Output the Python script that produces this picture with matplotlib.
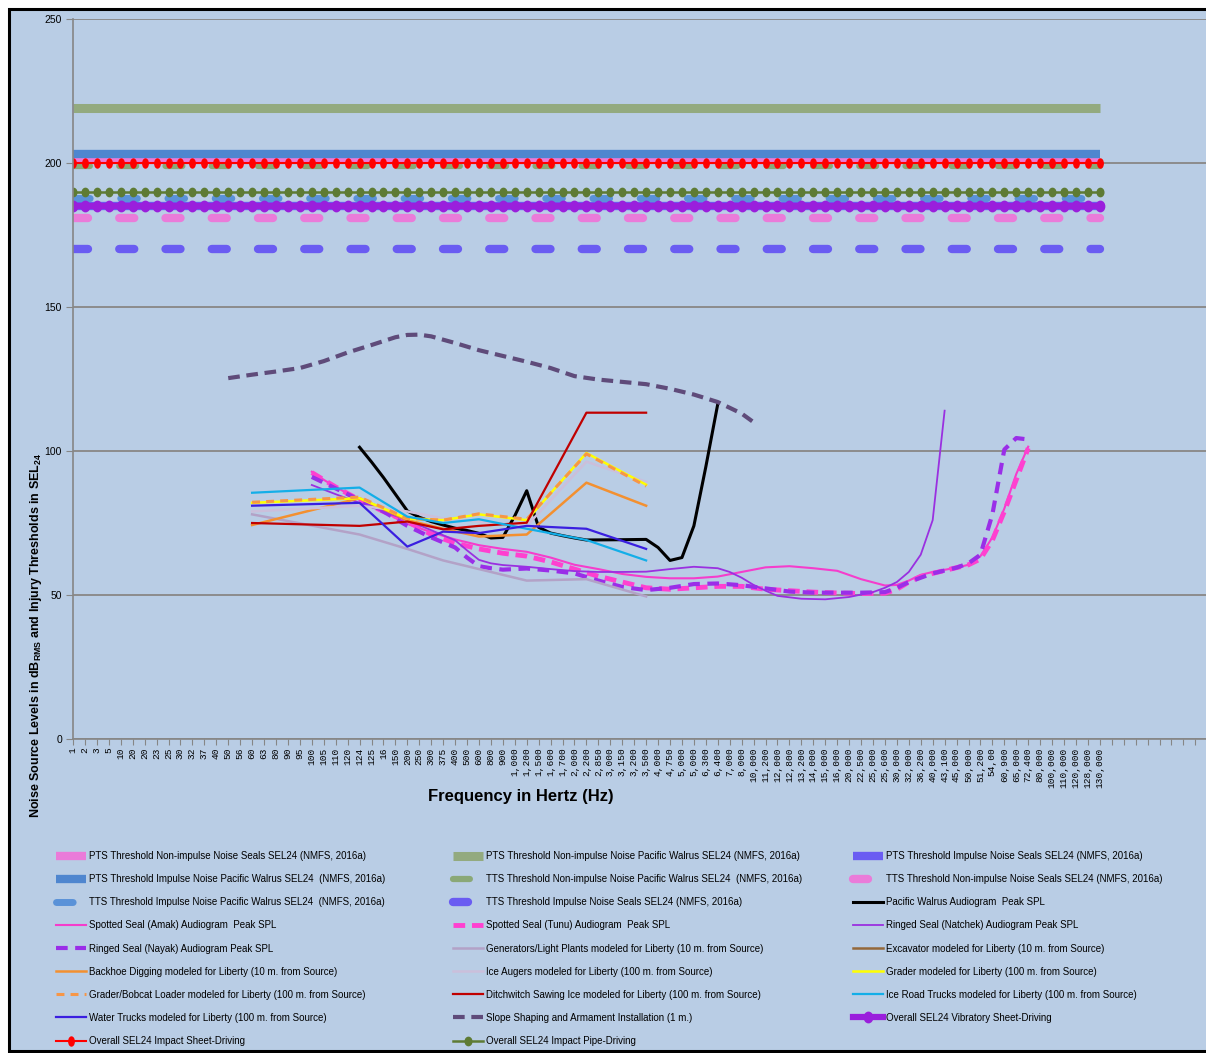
import numpy as np
import matplotlib.pyplot as plt
from matplotlib.patches import Rectangle
from matplotlib.path import Path
from matplotlib.transforms import Affine2D

# category axis (Excel-style line chart, one slot per label)
freq_labels = ["1", "2", "3", "5", "10", "20", "20", "23", "25", "30", "32", "37", "40", "50",
               "56", "60", "63", "80", "90", "95", "100", "105", "110", "120", "124", "125", "16",
               "150", "200", "250", "300", "375", "400", "500", "600", "800", "900", "1,000",
               "1,200", "1,500", "1,600", "1,700", "2,000", "2,200", "2,850", "3,000", "3,150",
               "3,200", "3,500", "4,000", "4,750", "5,000", "5,000", "6,300", "6,400", "7,000",
               "8,000", "10,000", "11,200", "12,000", "12,800", "13,200", "14,000", "15,000",
               "16,000", "20,000", "22,500", "25,000", "25,600", "30,000", "32,000", "36,200",
               "40,000", "43,100", "45,000", "50,000", "51,200", "54,00", "60,900", "65,000",
               "72,400", "80,000", "100,000", "110,000", "120,000", "128,000", "130,000"]
n_slots = 95  # empty categories continue past 130,000

# thresholds (dB SEL24), constant over all categories
pts_nonimp_seal = 201
pts_nonimp_walrus = 219
pts_imp_seal = 185
pts_imp_walrus = 203
tts_nonimp_walrus = 199
tts_nonimp_seal = 181
tts_imp_walrus = 188
tts_imp_seal = 170
vib_sheet = 185
impact_sheet = 200
impact_pipe = 190

# audiograms: category index / level
walrus_i = [24, 25, 26, 27, 28, 29, 30, 31, 32, 33, 34, 35, 36, 37, 38, 39, 40, 41, 42, 43, 46, 48, 49, 50, 51, 52, 53, 54]
walrus_db = [101.3, 96.2, 90.8, 85, 79.2, 77, 75.5, 74.3, 73.2, 72.4, 71.4, 69.8, 70, 77.5, 86.2, 73.5, 71.5, 70.6, 69.8, 69.1, 69.2, 69.3, 66.5, 62, 63, 74, 94.5, 116.3]

amak_i = [20, 21, 22, 24, 26, 28, 30, 32, 34, 36, 38, 40, 42, 44, 46, 48, 50, 52, 54, 56, 58, 60, 62, 64, 66, 68, 69, 70, 71, 72, 74, 75, 76, 77, 78, 79, 80]
amak_db = [92.8, 90, 87.5, 83, 79, 74.7, 71.8, 69.3, 67.3, 66, 65, 63, 60.5, 59, 57.3, 56.3, 55.8, 55.8, 56.4, 58, 59.6, 60, 59.3, 58.4, 55.5, 53.3, 53.5, 55, 57, 58, 59.5, 60.5, 63.5, 70, 80, 92, 101.5]

tunu_i = [20, 22, 24, 26, 28, 30, 32, 34, 36, 38, 40, 42, 44, 46, 48, 50, 52, 54, 56, 58, 60, 62, 64, 66, 68, 69, 70, 71, 72, 74, 75, 76, 77, 78, 79, 80]
tunu_db = [92.5, 87.5, 83, 79, 75.5, 71, 68, 66, 64.5, 63.5, 61.5, 59, 56.5, 54.5, 52.5, 52, 52.5, 53, 53, 52, 51.5, 51, 50.7, 50.5, 50.6, 52, 54.5, 56.4, 57.5, 59.5, 60.5, 62.5, 69, 79, 90, 101]

natchek_i = [20, 22, 24, 26, 28, 30, 32, 33, 34, 35, 36, 38, 40, 42, 44, 46, 48, 50, 52, 54, 55, 56, 57, 58, 59, 61, 63, 65, 67, 68, 69, 70, 71, 72, 73]
natchek_db = [88.2, 85, 82, 79, 76, 72.5, 69, 65.5, 62.2, 61, 60.4, 59.8, 59, 58.3, 58, 58, 58.1, 59, 59.8, 59.3, 58, 56, 53.5, 51.5, 49.7, 48.7, 48.5, 49.3, 51, 52.5, 54.5, 58, 64, 76, 114]

nayak_i = [20, 22, 24, 26, 28, 30, 32, 33, 34, 35, 36, 38, 40, 42, 44, 46, 48, 50, 52, 54, 56, 58, 60, 62, 64, 66, 68, 69, 70, 72, 74, 75, 76, 77, 78, 79, 80]
nayak_db = [91, 87, 83, 79, 74, 70, 66.5, 63, 60, 59.3, 58.8, 59.2, 58.5, 57.5, 55, 52.8, 51.7, 52.5, 53.8, 54, 53.4, 52.3, 51.2, 50.8, 50.8, 50.8, 51, 52.5, 54.5, 57.5, 59.5, 61, 64, 78, 100.5, 104.5, 104]

# equipment modelled for Liberty
equip_i = [15, 24, 28, 31, 34, 38, 43, 48]
generators_db = [78, 71, 66, 62, 59, 55, 55.5, 49.5]
excavator_db = []
backhoe_db = [74.3, 83.6, 76, 73, 70.3, 71, 89, 81]
ice_augers_db = [79, 81, 79, 76.6, 75.5, 74, 96.3, 89.3]
grader_db = [82, 83.6, 76.5, 76, 78, 76, 99.3, 88.3]
bobcat_db = [82.2, 84, 76.6, 76, 78.2, 76.3, 99, 87.8]
ditchwitch_db = [75, 74, 75.5, 72.8, 74, 75.1, 113.3, 113.3]
ice_road_db = [85.5, 87.3, 77.2, 75, 76.3, 73, 69.1, 62]
water_trucks_db = [81, 82, 66.8, 72, 71.5, 74, 73, 66]

slope_i = [13, 15, 17, 19, 21, 23, 25, 27, 28, 29, 30, 32, 34, 36, 38, 40, 42, 44, 46, 48, 50, 52, 54, 56, 57]
slope_db = [125.3, 126.5, 127.6, 128.8, 131.2, 134.2, 136.8, 139.5, 140.3, 140.4, 139.8, 137.5, 135, 133, 131, 128.8, 126, 124.8, 124, 123.2, 121.6, 119.6, 117, 113, 110]

bg = "#b9cde5"
plt.rcParams["font.family"] = ["Liberation Sans", "DejaVu Sans"]
plt.rcParams["mathtext.fontset"] = "custom"
plt.rcParams["mathtext.bf"] = "Liberation Sans:bold"
plt.rcParams["mathtext.rm"] = "Liberation Sans"

W, H = 1206, 1053
fig = plt.figure(figsize=(W / 100, H / 100), dpi=100)
fig.patch.set_facecolor("white")
fig.patches.append(Rectangle((9 / W, 2 / H), 1.0, 1 - 11 / H, transform=fig.transFigure,
                             facecolor=bg, edgecolor="black", lw=2.2, zorder=-10))

ax = fig.add_axes([73 / W, 314 / H, 1133 / W, 720 / H])
ax.set_facecolor(bg)
ax.patch.set_alpha(0)

cats = np.arange(len(freq_labels))
ell = Affine2D().scale(0.6, 1.0).transform_path(Path.unit_circle())
ell2 = Affine2D().scale(0.8, 1.0).transform_path(Path.unit_circle())


def flat(val, **kw):
    return ax.plot(cats, np.full(cats.size, float(val)), **kw)[0]


rd = dict(dash_capstyle="round")
h = []
h.append(flat(pts_nonimp_seal, color="#ea7bd9", lw=6, solid_capstyle="butt",
              label="PTS Threshold Non-impulse Noise Seals SEL24 (NMFS, 2016a)"))
h.append(flat(pts_nonimp_walrus, color="#93aa7f", lw=6.5, solid_capstyle="butt",
              label="PTS Threshold Non-impulse Noise Pacific Walrus SEL24 (NMFS, 2016a)"))
h.append(flat(pts_imp_seal, color="#6a5cf2", lw=6, solid_capstyle="butt",
              label="PTS Threshold Impulse Noise Seals SEL24 (NMFS, 2016a)"))
h.append(flat(pts_imp_walrus, color="#4f86cf", lw=6, solid_capstyle="butt",
              label="PTS Threshold Impulse Noise Pacific Walrus SEL24  (NMFS, 2016a)"))
h.append(flat(tts_nonimp_walrus, color="#8aa877", lw=4.5, dashes=(2.7, 4.7), **rd,
              label="TTS Threshold Non-impulse Noise Pacific Walrus SEL24  (NMFS, 2016a)"))
h.append(flat(tts_nonimp_seal, color="#ea7bd9", lw=6, dashes=(1.8, 3.75), **rd,
              label="TTS Threshold Non-impulse Noise Seals SEL24 (NMFS, 2016a)"))
h.append(flat(tts_imp_walrus, color="#5a92d8", lw=5, dashes=(2.4, 4.4), **rd,
              label="TTS Threshold Impulse Noise Pacific Walrus SEL24  (NMFS, 2016a)"))
h.append(flat(tts_imp_seal, color="#6a5cf2", lw=6, dashes=(1.8, 3.75), **rd,
              label="TTS Threshold Impulse Noise Seals SEL24 (NMFS, 2016a)"))

h.append(ax.plot(walrus_i, walrus_db, color="black", lw=2.2,
                 label="Pacific Walrus Audiogram  Peak SPL")[0])
h.append(ax.plot(amak_i, amak_db, color="#f53dcc", lw=1.5,
                 label="Spotted Seal (Amak) Audiogram  Peak SPL")[0])
h.append(ax.plot(tunu_i, tunu_db, color="#ff40d0", lw=3.5, dashes=(2.4, 1.4),
                 label="Spotted Seal (Tunu) Audiogram  Peak SPL")[0])
h.append(ax.plot(natchek_i, natchek_db, color="#9a30e0", lw=1.3,
                 label="Ringed Seal (Natchek) Audiogram Peak SPL")[0])
h.append(ax.plot(nayak_i, nayak_db, color="#9a2ee8", lw=3, dashes=(2.8, 1.8),
                 label="Ringed Seal (Nayak) Audiogram Peak SPL")[0])

h.append(ax.plot(equip_i, generators_db, color="#b3a2c7", lw=1.8,
                 label="Generators/Light Plants modeled for Liberty (10 m. from Source)")[0])
h.append(ax.plot(equip_i[:len(excavator_db)], excavator_db, color="#94683a", lw=1.8,
                 label="Excavator modeled for Liberty (10 m. from Source)")[0])
h.append(ax.plot(equip_i, backhoe_db, color="#f39030", lw=1.8,
                 label="Backhoe Digging modeled for Liberty (10 m. from Source)")[0])
h.append(ax.plot(equip_i, ice_augers_db, color="#cbbfdb", lw=1.8,
                 label="Ice Augers modeled for Liberty (100 m. from Source)")[0])
h.append(ax.plot(equip_i, grader_db, color="#ffff00", lw=1.8,
                 label="Grader modeled for Liberty (100 m. from Source)")[0])
h.append(ax.plot(equip_i, bobcat_db, color="#f79646", lw=2.2, dashes=(2.6, 2.0),
                 label="Grader/Bobcat Loader modeled for Liberty (100 m. from Source)")[0])
h.append(ax.plot(equip_i, ditchwitch_db, color="#c00000", lw=1.6,
                 label="Ditchwitch Sawing Ice modeled for Liberty (100 m. from Source)")[0])
h.append(ax.plot(equip_i, ice_road_db, color="#13aee8", lw=1.6,
                 label="Ice Road Trucks modeled for Liberty (100 m. from Source)")[0])
h.append(ax.plot(equip_i, water_trucks_db, color="#3a1fe0", lw=1.6,
                 label="Water Trucks modeled for Liberty (100 m. from Source)")[0])
h.append(ax.plot(slope_i, slope_db, color="#5f4b7a", lw=3, dashes=(2.8, 1.6),
                 label="Slope Shaping and Armament Installation (1 m.)")[0])

h.append(flat(vib_sheet, color="#9a1fdc", lw=4.5, marker=ell2, ms=7.5,
              label="Overall SEL24 Vibratory Sheet-Driving"))
h.append(flat(impact_sheet, color="#ff0000", lw=1.5, marker=ell, ms=6.5,
              label="Overall SEL24 Impact Sheet-Driving"))
h.append(flat(impact_pipe, color="#5e7b34", lw=1.8, marker=ell2, ms=6,
              label="Overall SEL24 Impact Pipe-Driving"))

ax.set_xlim(0, 1133 / 11.94)
ax.set_ylim(0, 250)
ax.set_yticks([0, 50, 100, 150, 200, 250])
ax.yaxis.grid(True, color="#8c8c8c", lw=1.4)
ax.set_axisbelow(True)
ax.set_xticks(np.arange(n_slots))
ax.set_xticklabels(freq_labels + [""] * (n_slots - len(freq_labels)),
                   rotation=90, fontsize=6.8, family=["Liberation Mono", "DejaVu Sans Mono"])
for s in ["top", "right"]:
    ax.spines[s].set_visible(False)
for s in ["left", "bottom"]:
    ax.spines[s].set_color("#868686")
    ax.spines[s].set_linewidth(1.2)
ax.tick_params(axis="x", length=4, color="#868686", pad=2)
ax.tick_params(axis="y", length=5, color="#868686", pad=3, labelsize=7.5)

fig.text(36 / W, 1 - 635 / H,
         r"Noise Source Levels in dB$_\mathbf{RMS}$ and Injury Thresholds in SEL$_\mathbf{24}$",
         rotation=90, ha="center", va="center", fontsize=9, fontweight="bold")
fig.text(521 / W, 1 - 797 / H, "Frequency in Hertz (Hz)", ha="center", va="center",
         fontsize=12, fontweight="bold")

col_x = [56, 453, 853]
for c in range(3):
    hs = h[c::3]
    fig.legend(hs, [x.get_label() for x in hs], loc="upper left",
               bbox_to_anchor=(col_x[c] / W, 1 - 851 / H), frameon=False, fontsize=7,
               handlelength=3.1, handletextpad=0.25, labelspacing=1.35, borderpad=0,
               borderaxespad=0)

fig.savefig("out.png", dpi=100, facecolor=fig.get_facecolor())
